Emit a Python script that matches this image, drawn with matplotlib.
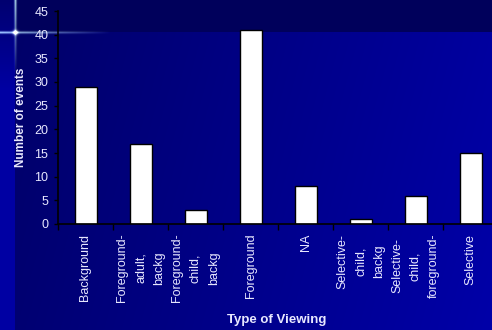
import numpy as np
import matplotlib.pyplot as plt

categories = ["Background", "Foreground-\nadult,\nbackg", "Foreground-\nchild,\nbackg",
              "Foreground", "NA", "Selective-\nchild,\nbackg",
              "Selective-\nchild,\nforeground-", "Selective"]
events = [29, 17, 3, 41, 8, 1, 6, 15]

plt.rcParams['font.family'] = ['Liberation Sans', 'DejaVu Sans']
txt = '#E8E8FF'

fig = plt.figure(figsize=(4.92, 3.30), dpi=100)

# background: navy slide with a lighter edge and a little sparkle
H, W = 330, 492
yy, xx = np.mgrid[0:H, 0:W]
b = 0.40 + 0.22 * (xx / W) + 0.04 * (yy / H)
b[:32, 15:] = 0.36
strip = xx < 15
b[strip] = 0.44 + 0.20 * np.clip(yy[strip] / 90, 0, 1)
bg = np.zeros((H, W, 3))
bg[..., 2] = b
glow_v = np.exp(-((xx - 15) ** 2) / 1.5) * np.clip(1 - yy / 75, 0, 1)
glow_h = np.exp(-((yy - 32) ** 2) / 1.5) * np.clip(1 - xx / 110, 0, 1)
glow = np.clip(glow_v + glow_h, 0, 1)
bg[..., 0] += glow * 0.6
bg[..., 1] += glow * 0.75
bg[..., 2] += glow * 0.5
center = np.exp(-((xx - 15) ** 2 + (yy - 32) ** 2) / 6.0)
bg += center[..., None] * np.array([1.0, 1.0, 0.6])
bg = np.clip(bg, 0, 1)
bax = fig.add_axes([0, 0, 1, 1])
bax.imshow(bg, aspect='auto', interpolation='bilinear')
bax.axis('off')

ax = fig.add_axes([58 / 492, 1 - 224 / 330, 440 / 492, 213 / 330])
ax.patch.set_alpha(0)
x = np.arange(len(categories))
ax.bar(x, events, width=0.4, color='white', edgecolor='black', linewidth=1)

ax.set_xlim(-0.5, len(categories) - 0.5)
ax.set_ylim(0, 45)
ax.set_yticks(range(0, 46, 5))
ax.set_xticks(np.arange(-0.5, len(categories), 1.0))
ax.set_xticklabels([])
ax.set_xticks(x, minor=True)
ax.set_xticklabels(categories, minor=True, rotation=90, fontsize=9, color=txt,
                   ha='center', va='top', multialignment='center', linespacing=1.7)
ax.tick_params(axis='x', which='major', length=4, width=1, color='black')
ax.tick_params(axis='x', which='minor', length=0, pad=7)
ax.tick_params(axis='y', length=3, width=1, color='black', labelsize=9, labelcolor=txt, pad=4)

for s in ['top', 'right']:
    ax.spines[s].set_visible(False)
for s in ['left', 'bottom']:
    ax.spines[s].set_color('black')
    ax.spines[s].set_linewidth(1.2)

ax.set_ylabel("Number of events", fontsize=8.5, fontweight='bold', color=txt, labelpad=5)
fig.text(277 / 492, 1 - 320 / 330, "Type of Viewing", fontsize=9.5, fontweight='bold',
         color=txt, ha='center', va='center')

fig.savefig('out.png', dpi=100)
